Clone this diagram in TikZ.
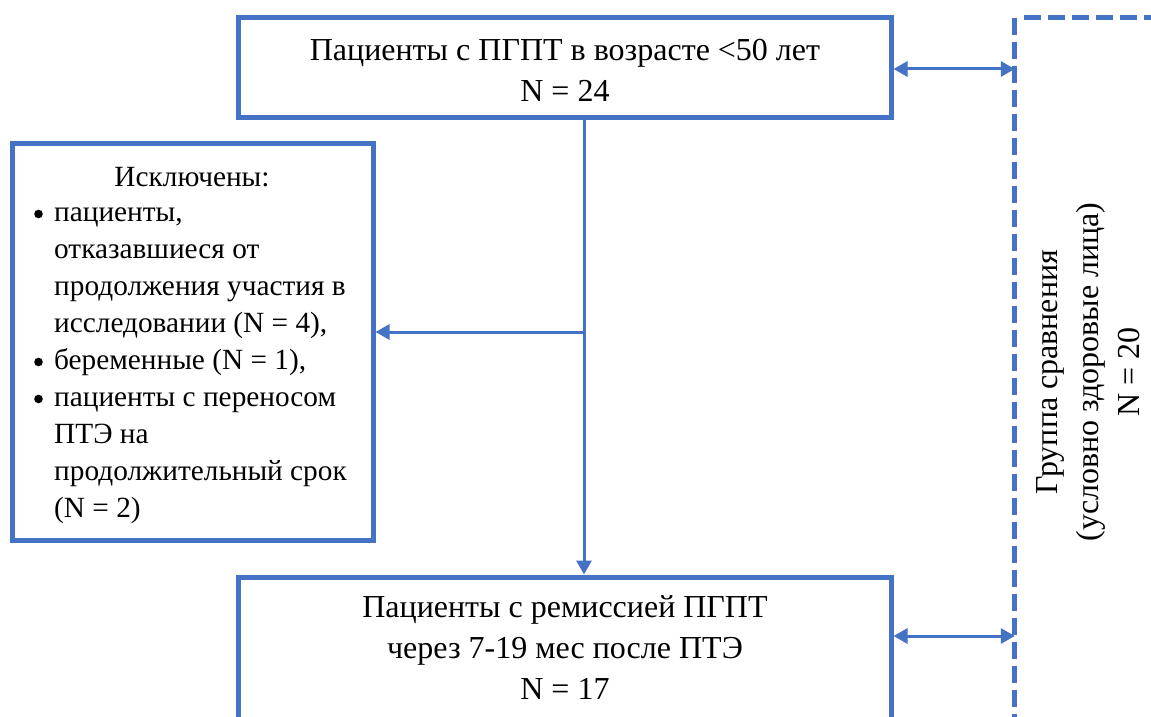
\documentclass[tikz,border=0pt]{standalone}
\usepackage{fontspec}
\setmainfont{Liberation Serif}
\usetikzlibrary{arrows.meta}
\definecolor{blu}{HTML}{4472C4}
\tikzset{
  frame/.style={draw=blu, line width=5pt, inner sep=0pt},
  dframe/.style={draw=blu, line width=5pt, dash pattern=on 17pt off 7pt},
  conn/.style={draw=blu, line width=3pt, -{Triangle[length=14pt,width=15pt]}},
  dconn/.style={draw=blu, line width=3pt, {Triangle[length=14pt,width=15pt]}-{Triangle[length=14pt,width=15pt]}},
  txt/.style={font=\fontsize{32}{41}\selectfont, align=center, inner sep=0pt},
  ltxt/.style={font=\fontsize{29.3}{37}\selectfont, align=left, inner sep=0pt},
  bul/.style={fill=black},
}
\begin{document}
\begin{tikzpicture}[x=1pt,y=-1pt]
\useasboundingbox (0,0) rectangle (1151,717);
\begin{scope}
\clip (0,0) rectangle (1151,717);
\fill[white] (0,0) rectangle (1151,717);
% top box
\node[frame, minimum width=653pt, minimum height=99pt] (top) at (564.5,67.5) {};
\node[txt] (toptext) at (565,70) {Пациенты с ПГПТ в возрасте <50 лет\\N = 24};
% excluded box
\node[frame, minimum width=361pt, minimum height=397pt] (excl) at (192.5,341.5) {};
\node[ltxt] (exclhead) at (192,177) {Исключены:};
\node[ltxt, anchor=north west] (excllist) at (54,195) {\strut пациенты,\\
отказавшиеся от\\
продолжения участия в\\
исследовании (N = 4),\\
беременные (N = 1),\\
пациенты с переносом\\
ПТЭ на\\
продолжительный срок\\
(N = 2)};
\fill[bul] (38.5,214) circle (4.3pt);
\fill[bul] (38.5,362) circle (4.3pt);
\fill[bul] (38.5,399) circle (4.3pt);
% bottom box
\node[frame, minimum width=653pt, minimum height=200pt] (bottom) at (564.5,677) {};
\node[txt] (bottomtext) at (565,648) {Пациенты с ремиссией ПГПТ\\через 7-19 мес после ПТЭ\\N = 17};
% comparison group (dashed)
\node[minimum width=285pt, minimum height=882pt, inner sep=0pt] (cmp) at (1157.5,459) {};
\draw[dframe] (cmp.north west) -- (cmp.south west);
\draw[dframe] ([xshift=9pt]cmp.north west) -- (cmp.north east);
\node[txt, rotate=90] (cmptext) at (1088,372) {Группа сравнения\\(условно здоровые лица)\\N = 20};
% connectors
\coordinate (j) at (584,332);
\coordinate (ya) at (0,69);
\coordinate (yb) at (0,636);
\draw[conn] (top.south -| j) -- (bottom.north -| j);
\draw[conn] (j) -- (excl.east |- j);
\draw[dconn] (top.east |- ya) -- (cmp.west |- ya);
\draw[dconn] (bottom.east |- yb) -- (cmp.west |- yb);
\end{scope}
\end{tikzpicture}
\end{document}
